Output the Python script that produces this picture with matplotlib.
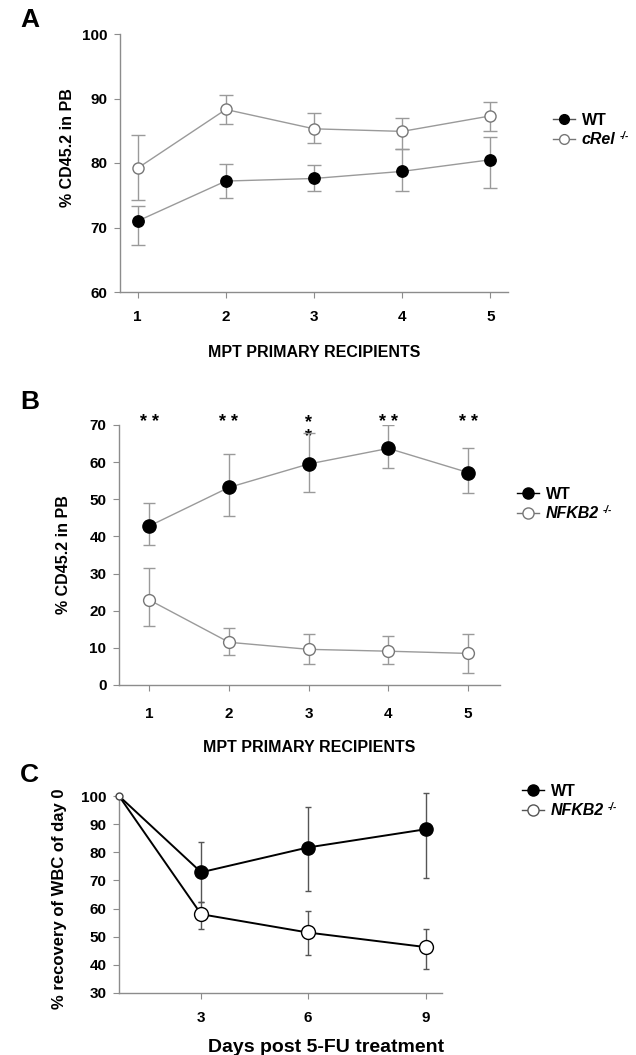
import numpy as np
import matplotlib
matplotlib.use("Agg")
import matplotlib.pyplot as plt
from matplotlib.lines import Line2D

plt.rcParams['font.family'] = ['Liberation Sans', 'DejaVu Sans']
plt.rcParams['font.weight'] = 'bold'

# --- Panel A: cRel ---
recipients = [1, 2, 3, 4, 5]
wt_a = [71.0, 77.2, 77.6, 78.7, 80.5]
wt_a_lo = [3.7, 2.6, 1.9, 3.0, 4.3]
wt_a_hi = [2.4, 2.6, 2.1, 3.5, 3.5]
crel_a = [79.2, 88.3, 85.3, 84.9, 87.3]
crel_a_lo = [4.9, 2.3, 2.2, 2.7, 2.3]
crel_a_hi = [5.2, 2.2, 2.4, 2.1, 2.2]

# --- Panel B: NFKB2 ---
wt_b = [42.8, 53.2, 59.5, 63.7, 57.2]
wt_b_lo = [5.1, 7.6, 7.5, 5.2, 5.4]
wt_b_hi = [6.2, 8.9, 8.3, 6.3, 6.5]
nf_b = [22.9, 11.5, 9.6, 9.1, 8.5]
nf_b_lo = [7.1, 3.5, 4.0, 3.5, 5.3]
nf_b_hi = [8.7, 3.9, 4.1, 4.1, 5.2]
signif_b = ['* *', '* *', '*\n*', '* *', '* *']

# --- Panel C: 5-FU ---
days = [0, 3, 6, 9]
wt_c = [100, 72.9, 81.7, 88.2]
wt_c_lo = [0, 10.7, 15.4, 17.4]
wt_c_hi = [0, 10.7, 14.5, 12.8]
nf_c = [100, 58.0, 51.5, 46.3]
nf_c_lo = [0, 5.3, 8.1, 7.6]
nf_c_hi = [0, 4.5, 7.6, 6.6]

GREY = '#9a9a9a'
SPINE = '#8c8c8c'

W, H = 636, 1055
fig = plt.figure(figsize=(W / 100, H / 100), dpi=100)


def px_axes(left, top, right, bottom):
    # axes rectangle from pixel coords of the picture
    return fig.add_axes([left / W, 1 - bottom / H, (right - left) / W, (bottom - top) / H])


def style_axes(ax, xpad=9):
    for s in ['top', 'right']:
        ax.spines[s].set_visible(False)
    for s in ['left', 'bottom']:
        ax.spines[s].set_color(SPINE)
        ax.spines[s].set_linewidth(1.0)
    ax.tick_params(axis='both', direction='out', length=4, color=SPINE, labelsize=11)
    ax.tick_params(axis='y', pad=5)
    ax.tick_params(axis='x', pad=xpad)
    for lab in ax.get_xticklabels() + ax.get_yticklabels():
        lab.set_fontweight('bold')


def add_legend(handles, labels, x, y):
    leg = fig.legend(handles, labels, loc='center left', bbox_to_anchor=(x / W, 1 - y / H),
                     frameon=False, fontsize=11.5, handlelength=1.4, handletextpad=0.4,
                     labelspacing=0.3, borderpad=0, borderaxespad=0)
    # mutant label: italic with a small "-/-" superscript (drawn after the legend)
    txt = leg.get_texts()[1]
    txt.set_fontstyle('italic')
    sup = plt.Annotation('-/-', xy=(1, 1), xycoords=txt, xytext=(3, 1),
                         textcoords='offset points', ha='left', va='top',
                         fontsize=7, fontweight='bold', fontstyle='italic')
    sup.set_zorder(leg.get_zorder() + 1)
    fig.add_artist(sup)
    return leg


# ===== A =====
ax1 = px_axes(120, 34, 508, 292)
ax1.errorbar(recipients, crel_a, yerr=[crel_a_lo, crel_a_hi], color=GREY, lw=1,
             ecolor=GREY, elinewidth=1, capsize=5, marker='o', ms=8,
             mfc='white', mec='#777777', mew=1, zorder=3)
ax1.errorbar(recipients, wt_a, yerr=[wt_a_lo, wt_a_hi], color=GREY, lw=1,
             ecolor=GREY, elinewidth=1, capsize=5, marker='o', ms=8.2,
             mfc='black', mec='black', zorder=4)
ax1.set_xlim(0.8, 5.2)
ax1.set_ylim(60, 100)
ax1.set_xticks(recipients)
ax1.set_yticks([60, 70, 80, 90, 100])
style_axes(ax1)
ax1.set_ylabel('% CD45.2 in PB', fontsize=11.5, fontweight='bold')
ax1.yaxis.set_label_coords(-0.115, 0.56)
ax1.set_xlabel('MPT PRIMARY RECIPIENTS', fontsize=11.5, fontweight='bold')
ax1.xaxis.set_label_coords(0.5, -0.205)

h_wt_a = Line2D([], [], color='#555555', lw=1, marker='o', ms=7, mfc='black', mec='black')
h_cr_a = Line2D([], [], color='#777777', lw=1, marker='o', ms=7, mfc='white', mec='#777777')
add_legend([h_wt_a, h_cr_a], ['WT', 'cRel'], 553, 130)

# ===== B =====
ax2 = px_axes(119, 425, 500, 685)
ax2.errorbar(recipients, nf_b, yerr=[nf_b_lo, nf_b_hi], color=GREY, lw=1,
             ecolor=GREY, elinewidth=1, capsize=4.5, marker='o', ms=8.5,
             mfc='white', mec='#777777', mew=1, zorder=3)
ax2.errorbar(recipients, wt_b, yerr=[wt_b_lo, wt_b_hi], color=GREY, lw=1,
             ecolor=GREY, elinewidth=1, capsize=4.5, marker='o', ms=9.5,
             mfc='black', mec='black', zorder=4)
for x, s in zip(recipients, signif_b):
    ax2.text(x, 73, s, ha='center', va='top', fontsize=13, fontweight='bold',
             linespacing=0.75, clip_on=False)
ax2.set_xlim(0.62, 5.4)
ax2.set_ylim(0, 70)
ax2.set_xticks(recipients)
ax2.set_yticks(range(0, 71, 10))
style_axes(ax2, xpad=12)
ax2.set_ylabel('% CD45.2 in PB', fontsize=11.5, fontweight='bold')
ax2.yaxis.set_label_coords(-0.125, 0.5)
ax2.set_xlabel('MPT PRIMARY RECIPIENTS', fontsize=11.5, fontweight='bold')
ax2.xaxis.set_label_coords(0.5, -0.21)

h_wt_b = Line2D([], [], color='black', lw=1, marker='o', ms=8, mfc='black', mec='black')
h_nf_b = Line2D([], [], color='#777777', lw=1, marker='o', ms=8, mfc='white', mec='#777777')
add_legend([h_wt_b, h_nf_b], ['WT', 'NFKB2'], 517, 504)

# ===== C =====
ax3 = px_axes(119, 796, 442, 993)
ax3.set_xscale('function', functions=(lambda x: np.sign(x) * np.abs(x) ** 1.2,
                                      lambda y: np.sign(y) * np.abs(y) ** (1 / 1.2)))
ax3.plot(days, wt_c, color='black', lw=1.4, zorder=2)
ax3.plot(days, nf_c, color='black', lw=1.4, zorder=2)
for vals, lo, hi in [(wt_c, wt_c_lo, wt_c_hi), (nf_c, nf_c_lo, nf_c_hi)]:
    eb = ax3.errorbar(days[1:], vals[1:], yerr=[lo[1:], hi[1:]], fmt='none',
                      ecolor='#555555', elinewidth=1, capsize=2.5, zorder=1)
    for art in eb.lines[1] + eb.lines[2]:
        art.set_clip_on(False)
ax3.plot(days[1:], wt_c[1:], 'o', ms=9.5, mfc='black', mec='black', zorder=4)
ax3.plot(days[1:], nf_c[1:], 'o', ms=10, mfc='white', mec='black', mew=1, zorder=4)
ax3.plot(days[:1], wt_c[:1], 'o', ms=5, mfc='white', mec='#444444', mew=1,
         zorder=5, clip_on=False)
ax3.set_xlim(0, 9.39)
ax3.set_ylim(30, 100)
ax3.set_xticks([3, 6, 9])
ax3.xaxis.set_minor_locator(matplotlib.ticker.NullLocator())
ax3.set_yticks(range(30, 101, 10))
style_axes(ax3)
ax3.set_ylabel('% recovery of WBC of day 0', fontsize=12, fontweight='bold')
ax3.yaxis.set_label_coords(-0.16, 0.48)
ax3.set_xlabel('Days post 5-FU treatment', fontsize=14, fontweight='bold')
ax3.xaxis.set_label_coords(0.64, -0.235)

h_wt_c = Line2D([], [], color='black', lw=1, marker='o', ms=8, mfc='black', mec='black')
h_nf_c = Line2D([], [], color='#555555', lw=1, marker='o', ms=8, mfc='white', mec='#555555')
add_legend([h_wt_c, h_nf_c], ['WT', 'NFKB2'], 522, 801)

# panel letters
for letter, ypx in [('A', 20), ('B', 402), ('C', 775)]:
    fig.text(20 / W, 1 - ypx / H, letter, fontsize=19, fontweight='bold', va='center')

fig.savefig('out.png', dpi=100)
